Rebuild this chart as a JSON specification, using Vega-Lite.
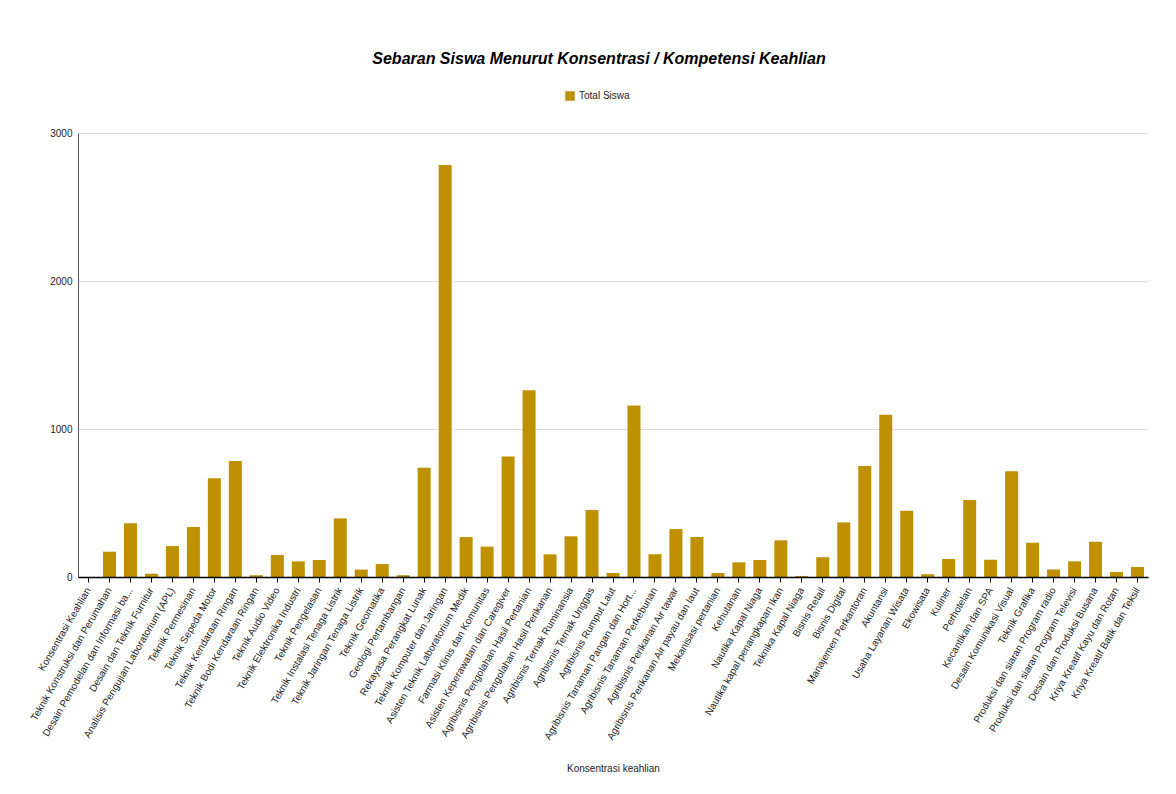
{
  "$schema": "https://vega.github.io/schema/vega-lite/v6.json",
  "autosize": "none",
  "width": 1070,
  "height": 444,
  "padding": {"left": 78, "top": 133, "right": 28, "bottom": 217},
  "background": "white",
  "title": {
    "text": "Sebaran Siswa Menurut Konsentrasi / Kompetensi Keahlian",
    "font": "Liberation Sans",
    "fontSize": 16,
    "fontWeight": "bold",
    "fontStyle": "italic",
    "color": "#000000",
    "anchor": "middle",
    "dx": -14,
    "offset": 24
  },
  "data": {
    "values": [
      {"k": "Konsentrasi Keahlian", "v": 0},
      {"k": "Teknik Konstruksi dan Perumahan", "v": 171},
      {"k": "Desain Pemodelan dan Informasi ba...", "v": 363},
      {"k": "Desain dan Teknik Furnitur", "v": 22},
      {"k": "Analisis Pengujian Laboratorium (APL)", "v": 209},
      {"k": "Teknik Permesinan", "v": 338},
      {"k": "Teknik Sepeda Motor", "v": 667},
      {"k": "Teknik Kendaraan Ringan", "v": 784},
      {"k": "Teknik Bodi Kendaraan Ringan", "v": 12},
      {"k": "Teknik Audio Video", "v": 149},
      {"k": "Teknik Elektronika Industri", "v": 106},
      {"k": "Teknik Pengelasan", "v": 115},
      {"k": "Teknik Instalasi Tenaga Listrik", "v": 396},
      {"k": "Teknik Jaringan Tenaga Listrik", "v": 50},
      {"k": "Teknik Geomatika", "v": 88},
      {"k": "Geologi Pertambangan", "v": 12},
      {"k": "Rekayasa Perangkat Lunak", "v": 739},
      {"k": "Teknik Komputer dan Jaringan", "v": 2784},
      {"k": "Asisten Teknik Laboratorium Medik", "v": 270},
      {"k": "Farmasi Klinis dan Komunitas", "v": 205},
      {"k": "Asisten Keperawatan dan Caregiver", "v": 815},
      {"k": "Agribisnis Pengolahan Hasil Pertanian", "v": 1261},
      {"k": "Agribisnis Pengolahan Hasil Perikanan", "v": 153},
      {"k": "Agribisnis Ternak Ruminansia", "v": 275},
      {"k": "Agribisnis Ternak Unggas", "v": 453},
      {"k": "Agribisnis Rumput Laut", "v": 27},
      {"k": "Agribisnis Tanaman Pangan dan Hort...", "v": 1158},
      {"k": "Agribisnis Tanaman Perkebunan", "v": 153},
      {"k": "Agribisnis Perikanan Air tawar", "v": 324},
      {"k": "Agribisnis Perikanan Air payau dan laut", "v": 270},
      {"k": "Mekanisasi pertanian", "v": 27},
      {"k": "Kehutanan", "v": 99},
      {"k": "Nautika Kapal Niaga", "v": 115},
      {"k": "Nautika kapal penangkapan Ikan", "v": 248},
      {"k": "Teknika Kapal Niaga", "v": 7},
      {"k": "Bisnis Retail", "v": 133},
      {"k": "Bisnis Digital", "v": 369},
      {"k": "Manajemen Perkantoran", "v": 750},
      {"k": "Akuntansi", "v": 1097},
      {"k": "Usaha Layanan Wisata", "v": 448},
      {"k": "Ekowisata", "v": 18},
      {"k": "Kuliner", "v": 122},
      {"k": "Perhotelan", "v": 520},
      {"k": "Kecantikan dan SPA", "v": 117},
      {"k": "Desain Komunikasi Visual", "v": 714},
      {"k": "Teknik Grafika", "v": 232},
      {"k": "Produksi dan siaran Program radio", "v": 50},
      {"k": "Produksi dan siaran Program Televisi", "v": 106},
      {"k": "Desain dan Produksi Busana", "v": 239},
      {"k": "Kriya Kreatif Kayu dan Rotan", "v": 34},
      {"k": "Kriya Kreatif Batik dan Teksil", "v": 68}
    ]
  },
  "mark": {"type": "bar", "color": "#bf9000"},
  "encoding": {
    "x": {
      "field": "k",
      "type": "nominal",
      "sort": null,
      "scale": {"paddingInner": 0.38, "paddingOuter": 0.19},
      "axis": {
        "title": "Konsentrasi keahlian",
        "titleFont": "Liberation Sans",
        "titleFontSize": 10,
        "titleFontWeight": "normal",
        "titleColor": "#222222",
        "titleY": 186,
        "labelAngle": -60,
        "labelAlign": "right",
        "labelBaseline": "middle",
        "labelFont": "Liberation Sans",
        "labelFontSize": 10,
        "labelColor": "#222222",
        "labelLimit": 400,
        "labelPadding": 6,
        "labelOverlap": false,
        "tickColor": "#000000",
        "tickSize": 5,
        "domainColor": "#000000",
        "domainWidth": 1.5,
        "zindex": 1
      }
    },
    "y": {
      "field": "v",
      "type": "quantitative",
      "scale": {"domain": [0, 3000], "nice": false},
      "axis": {
        "title": null,
        "values": [0, 1000, 2000, 3000],
        "format": "d",
        "labelFont": "Liberation Sans",
        "labelFontSize": 10,
        "labelColor": "#222222",
        "labelPadding": 6,
        "ticks": false,
        "domainColor": "#555555",
        "gridColor": "#dddddd",
        "labelBaseline": "middle"
      }
    },
    "color": {
      "datum": "Total Siswa",
      "type": "nominal",
      "scale": {"range": ["#bf9000"]},
      "legend": {
        "title": null,
        "orient": "none",
        "legendX": 487,
        "legendY": -42,
        "symbolType": "square",
        "symbolSize": 90,
        "symbolStrokeWidth": 0,
        "labelFont": "Liberation Sans",
        "labelFontSize": 10,
        "labelColor": "#222222"
      }
    }
  },
  "config": {"view": {"stroke": null}}
}
